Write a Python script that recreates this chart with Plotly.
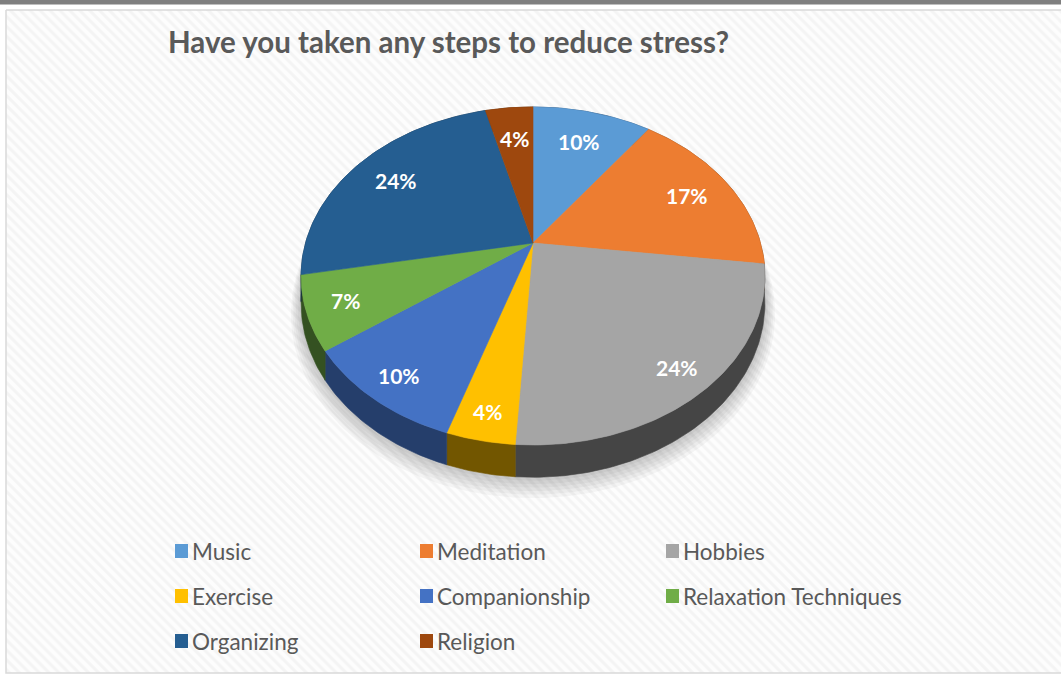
import math
import plotly.graph_objects as go

# Survey answers: "Have you taken any steps to reduce stress?"
categories = ["Music", "Meditation", "Hobbies", "Exercise",
              "Companionship", "Relaxation Techniques", "Organizing", "Religion"]
shares = [10, 17, 24, 4, 10, 7, 24, 4]   # percent of respondents
slice_colors = ["#5B9BD5", "#ED7D31", "#A5A5A5", "#FFC000",
                "#4472C4", "#70AD47", "#255E91", "#9E480E"]

W, H = 1061, 675

# Tilted-disc geometry (pixel space): apex, semi-axes, perspective, thickness
CX, CY = 533.0, 243.0
A, B, K = 227.5, 162.6, 0.195
DEPTH = 26.0


def project(theta, r=1.0, drop=0.0):
    """Map a point on the pie disc (angle clockwise from 12 o'clock) to the page."""
    x = r * math.sin(theta)
    y = r * math.cos(theta)
    s = 1.0 / (1.0 + K * y)
    return CX + A * x * s, CY - B * y * s + drop * s


def arc(t0, t1, r=1.0, drop=0.0, n=None):
    if n is None:
        n = max(4, int(abs(t1 - t0) / (2 * math.pi) * 360))
    pts = [project(t0 + (t1 - t0) * i / n, r, drop) for i in range(n + 1)]
    return [p[0] for p in pts], [p[1] for p in pts]


def shade(hex_color, f):
    h = hex_color.lstrip("#")
    r, g, b = (int(h[i:i + 2], 16) for i in (0, 2, 4))
    return "rgb({},{},{})".format(int(r * f), int(g * f), int(b * f))


fig = go.Figure()

# Chart panel with a fine diagonal hatch
fig.add_trace(go.Scatter(
    x=[6, W + 2, W + 2, 6, 6], y=[10, 10, 673, 673, 10],
    mode="lines", fill="toself", line=dict(color="#d9d9d9", width=1.5),
    fillcolor="#fcfcfc",
    fillpattern=dict(shape="\\", bgcolor="#fdfdfd", fgcolor="#ececec",
                     size=7, solidity=0.45),
    hoverinfo="skip", showlegend=False))

# Soft drop shadow under the disc
for i in range(6, 0, -1):
    xs, ys = arc(0, 2 * math.pi, r=1.0 + 0.007 * i, drop=DEPTH + 1.3 * i, n=360)
    fig.add_trace(go.Scatter(x=xs, y=ys, mode="lines", fill="toself",
                             line=dict(width=0), fillcolor="rgba(0,0,0,0.035)",
                             hoverinfo="skip", showlegend=False))

# Slice angles
total = sum(shares)
bounds = [0.0]
for v in shares:
    bounds.append(bounds[-1] + v / total * 2 * math.pi)

# Side walls of the disc
side_factor = [0.47, 0.47, 0.42, 0.45, 0.55, 0.47, 0.47, 0.47]
for i, name in enumerate(categories):
    t0, t1 = bounds[i], bounds[i + 1]
    tx, ty = arc(t0, t1)
    bx, by = arc(t0, t1, drop=DEPTH)
    xs = tx + bx[::-1] + [tx[0]]
    ys = ty + by[::-1] + [ty[0]]
    side = shade(slice_colors[i], side_factor[i])
    fig.add_trace(go.Scatter(x=xs, y=ys, mode="lines", fill="toself",
                             line=dict(color=side, width=0.6), fillcolor=side,
                             hoverinfo="skip", showlegend=False))

# Top faces
for i, name in enumerate(categories):
    t0, t1 = bounds[i], bounds[i + 1]
    ax, ay = arc(t0, t1)
    xs = [CX] + ax + [CX]
    ys = [CY] + ay + [CY]
    fig.add_trace(go.Scatter(x=xs, y=ys, mode="lines", fill="toself",
                             line=dict(color=slice_colors[i], width=0.6),
                             fillcolor=slice_colors[i], name=name,
                             hoverinfo="name", showlegend=False))

# Percent labels
for i, v in enumerate(shares):
    mid = (bounds[i] + bounds[i + 1]) / 2
    r = 0.81 - 0.07 * math.cos(mid)
    lx, ly = project(mid, r)
    fig.add_annotation(x=lx, y=ly, text="{}%".format(v), showarrow=False,
                       xanchor="center", yanchor="middle",
                       font=dict(family="Lato", size=21, color="white", weight="bold"))

# Legend panel
shapes = [
    dict(type="rect", xref="paper", yref="paper", x0=0, x1=1, y0=1, y1=1 - 4.5 / H,
         fillcolor="#7f7f7f", line=dict(width=0), layer="above"),
    dict(type="rect", xref="x", yref="y", x0=165, x1=903, y0=528, y1=659,
         fillcolor="#fefefe", line=dict(width=0), layer="below"),
]
legend_cols = [175, 420, 666]
legend_rows = [551, 596, 641]
for i, name in enumerate(categories):
    cx = legend_cols[i % 3]
    cy = legend_rows[i // 3]
    shapes.append(dict(type="rect", xref="x", yref="y", x0=cx, x1=cx + 13,
                       y0=cy - 7, y1=cy + 7, fillcolor=slice_colors[i],
                       line=dict(width=0)))
    fig.add_annotation(x=cx + 15, y=cy, text=name, showarrow=False,
                       xanchor="left", yanchor="middle",
                       font=dict(family="Lato", size=22.5, color="#595959"))

fig.add_annotation(x=448, y=41, text="Have you taken any steps to reduce stress?",
                   showarrow=False, xanchor="center", yanchor="middle",
                   font=dict(family="Lato", size=29.5, color="#595959", weight="bold"))

fig.update_layout(
    width=W, height=H, margin=dict(l=0, r=0, t=0, b=0),
    paper_bgcolor="white", plot_bgcolor="white",
    shapes=shapes, showlegend=False,
    xaxis=dict(range=[0, W], visible=False, fixedrange=True),
    yaxis=dict(range=[H, 0], visible=False, fixedrange=True),
)

fig.write_html("out.html")
